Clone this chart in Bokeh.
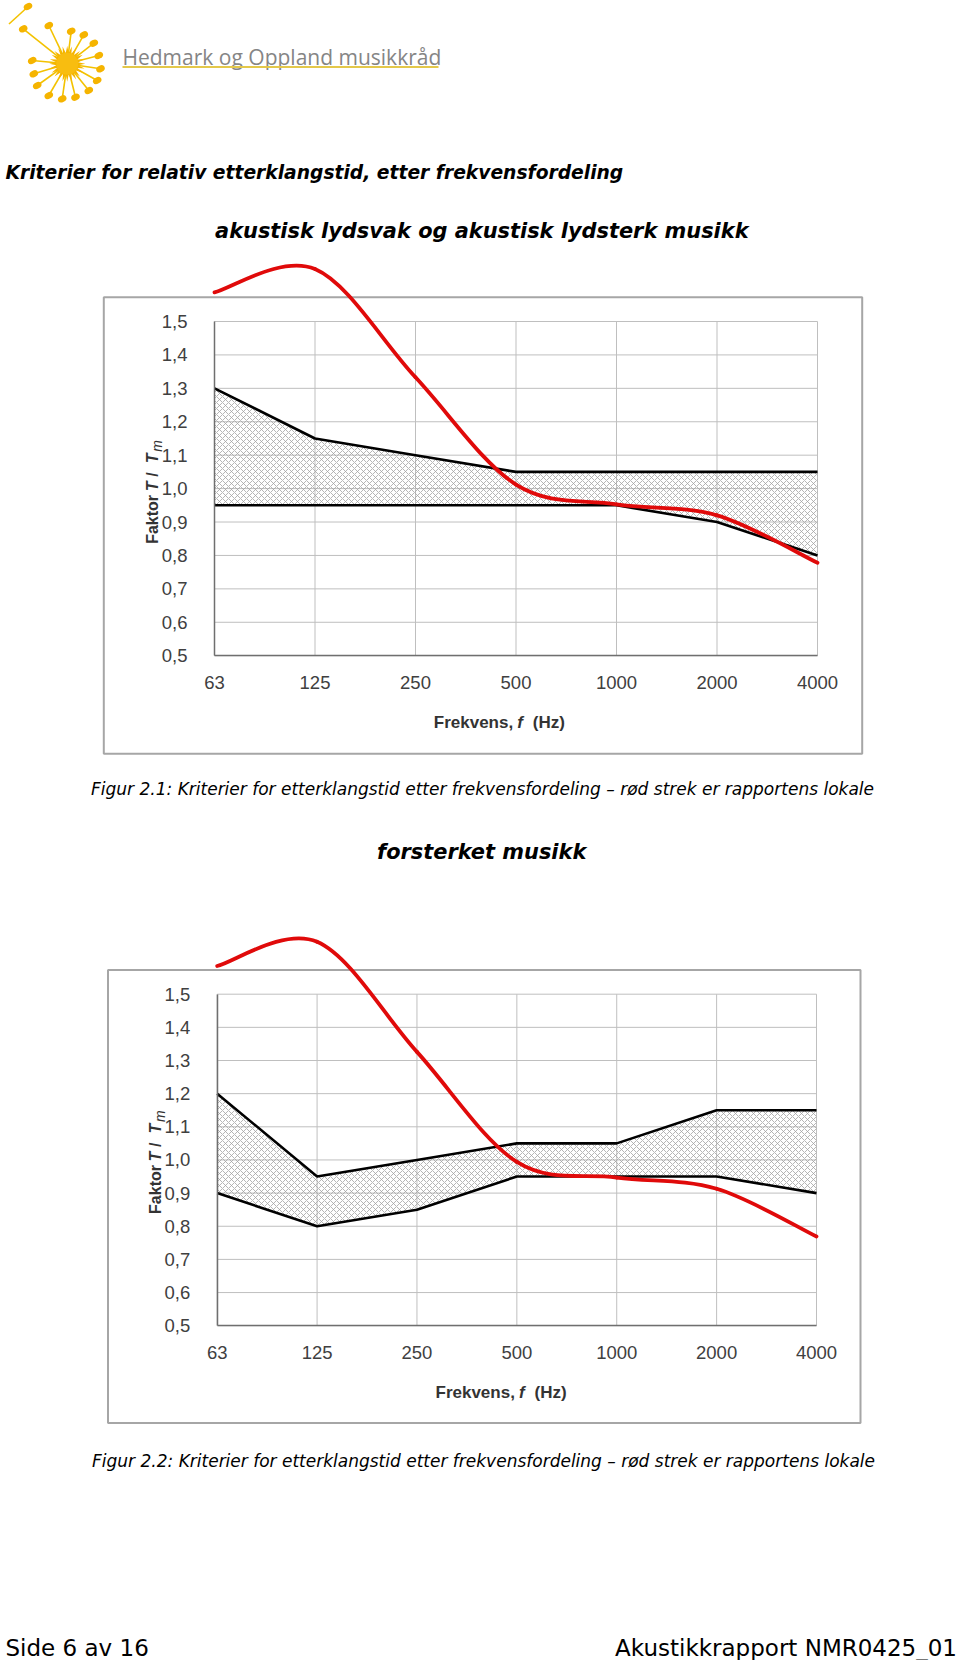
import math
from bokeh.plotting import figure
from bokeh.models import Range1d, LinearAxis, FixedTicker
from bokeh.core.properties import value
from bokeh.embed import file_html
from bokeh.resources import INLINE

# ---------------- data ----------------
FREQ_LABELS = ["63", "125", "250", "500", "1000", "2000", "4000"]
Y_TICKS = [0.5, 0.6, 0.7, 0.8, 0.9, 1.0, 1.1, 1.2, 1.3, 1.4, 1.5]
Y_TICK_LABELS = ["0,5", "0,6", "0,7", "0,8", "0,9", "1,0", "1,1", "1,2", "1,3", "1,4", "1,5"]

# Figur 2.1 - akustisk lydsvak og akustisk lydsterk musikk
UPPER_1 = [1.30, 1.15, 1.10, 1.05, 1.05, 1.05, 1.05]
LOWER_1 = [0.95, 0.95, 0.95, 0.95, 0.95, 0.90, 0.80]
ROOM_1 = [1.587, 1.657, 1.333, 1.012, 0.953, 0.920, 0.778]

# Figur 2.2 - forsterket musikk
UPPER_2 = [1.20, 0.95, 1.00, 1.05, 1.05, 1.15, 1.15]
LOWER_2 = [0.90, 0.80, 0.85, 0.95, 0.95, 0.95, 0.90]
ROOM_2 = [1.585, 1.658, 1.326, 0.994, 0.947, 0.913, 0.769]

TITLE = "Kriterier for relativ etterklangstid, etter frekvensfordeling"
SUB_1 = "akustisk lydsvak og akustisk lydsterk musikk"
SUB_2 = "forsterket musikk"
CAP_1 = "Figur 2.1: Kriterier for etterklangstid etter frekvensfordeling \u2013 r\u00f8d strek er rapportens lokale"
CAP_2 = "Figur 2.2: Kriterier for etterklangstid etter frekvensfordeling \u2013 r\u00f8d strek er rapportens lokale"
FOOT_L = "Side 6 av 16"
FOOT_R = "Akustikkrapport NMR0425_01"
LOGO_TEXT = "Hedmark og Oppland musikkr\u00e5d"

# ---------------- page canvas ----------------
W, H = 960, 1660
PX0, PY0 = 0, 0
PAGE_FONT = "DejaVu Sans"
CHART_FONT = "Liberation Sans"

p = figure(width=W, height=H, x_range=Range1d(PX0, PX0 + W), y_range=Range1d(PY0 + H, PY0),
           output_backend="svg", toolbar_location=None, min_border=0,
           x_axis_location=None, y_axis_location=None)
p.outline_line_color = None
p.background_fill_color = "white"
p.border_fill_color = "white"
p.grid.visible = False


def txt(x, y, s, size, style="normal", font=PAGE_FONT, align="left", baseline="middle",
        color="black", angle=0.0, **kw):
    p.text(x=[x], y=[y], text=[s], text_font=value(font), text_font_size=size,
           text_font_style=style, text_align=align, text_baseline=baseline,
           text_color=color, angle=angle, **kw)


# ---------------- logo ----------------
LOGO_YELLOW = "#f5b400"
LOGO_CENTER = (66.7, 63.3)
LOGO_HEADS = [(48.3, 25), (70.7, 30.7), (83.3, 34.3), (93.3, 42.7), (98.3, 55), (100, 68.3),
              (96.7, 80), (88.3, 90), (75, 96.7), (61.7, 98.3), (48.3, 95), (36.7, 85),
              (33.3, 73.3), (31.7, 60), (22.7, 28.3)]
cx, cy = LOGO_CENTER
p.segment(x0=[h[0] for h in LOGO_HEADS], y0=[h[1] for h in LOGO_HEADS],
          x1=[cx] * len(LOGO_HEADS), y1=[cy] * len(LOGO_HEADS),
          line_color="#f3c200", line_width=1.6)
p.segment(x0=[8.5], y0=[23.5], x1=[25.5], y1=[8.0], line_color="#f3c200", line_width=1.6)
p.ellipse(x=[h[0] for h in LOGO_HEADS] + [27.5], y=[h[1] for h in LOGO_HEADS] + [6.0],
          width=9, height=6.5, angle=0.5, fill_color=LOGO_YELLOW, line_color=None)
star_x, star_y = [], []
for k in range(48):
    r = 18 if k % 2 == 0 else 11
    a = k * math.pi / 24
    star_x.append(cx + r * math.cos(a))
    star_y.append(cy + r * math.sin(a))
p.patch(star_x, star_y, fill_color=LOGO_YELLOW, line_color=None)
p.circle(x=[cx], y=[cy], radius=11, fill_color="#f8bd10", line_color=None)
txt(122, 56.7, LOGO_TEXT, "21px", font="Open Sans", baseline="alphabetic", color="#858585")
p.segment(x0=[122], y0=[66.5], x1=[438], y1=[66.5], line_color="#e3c84a", line_width=2)

# ---------------- page texts ----------------
txt(5, 172.3, TITLE, "18.7px", style="bold italic")
txt(481.3, 230, SUB_1, "20.9px", style="bold italic", align="center")
txt(482, 788.3, CAP_1, "17px", style="italic", align="center")
txt(481.2, 851.7, SUB_2, "20.9px", style="bold italic", align="center")
txt(483, 1460.7, CAP_2, "17px", style="italic", align="center")
txt(5, 1647, FOOT_L, "23px", baseline="alphabetic")
txt(956.5, 1647, FOOT_R, "23px", baseline="alphabetic", align="right")

# ---------------- charts ----------------
CHARTS = [
    dict(name="c1", upper=UPPER_1, lower=LOWER_1, room=ROOM_1,
         plot=(214.0, 817.0, 321.0, 655.2), box=(103.3, 861.7, 296.7, 753.3),
         xtitle=(433.3, 721.7), ytitle=(152.0, 543.3)),
    dict(name="c2", upper=UPPER_2, lower=LOWER_2, room=ROOM_2,
         plot=(216.7, 816.0, 993.7, 1325.2), box=(107.5, 860.0, 969.6, 1422.5),
         xtitle=(435.0, 1391.7), ytitle=(155.0, 1213.4)),
]

N = len(FREQ_LABELS)
IDX = list(range(N))
GRID_COLOR = "#bfbfbf"
AXIS_COLOR = "#6f6f6f"
LABEL_COLOR = "#404040"
TITLE_COLOR = "#333333"


def excel_smooth(ys):
    xs = list(range(len(ys)))
    xe = [xs[0]] + xs + [xs[-1]]
    ye = [ys[0]] + list(ys) + [ys[-1]]
    seg = dict(x0=[], y0=[], x1=[], y1=[], cx0=[], cy0=[], cx1=[], cy1=[])
    for i in range(len(ys) - 1):
        seg["x0"].append(xe[i + 1]); seg["y0"].append(ye[i + 1])
        seg["x1"].append(xe[i + 2]); seg["y1"].append(ye[i + 2])
        seg["cx0"].append(xe[i + 1] + (xe[i + 2] - xe[i]) / 6.0)
        seg["cy0"].append(ye[i + 1] + (ye[i + 2] - ye[i]) / 6.0)
        seg["cx1"].append(xe[i + 2] - (xe[i + 3] - xe[i + 1]) / 6.0)
        seg["cy1"].append(ye[i + 2] - (ye[i + 3] - ye[i + 1]) / 6.0)
    return seg


for c in CHARTS:
    L, R, T, B = c["plot"]
    sx = (R - L) / (N - 1)
    sy = (B - T) / (Y_TICKS[-1] - Y_TICKS[0])
    xr_name, yr_name = c["name"] + "x", c["name"] + "y"
    p.extra_x_ranges[xr_name] = Range1d(0 - (L - PX0) / sx, (N - 1) + (PX0 + W - R) / sx)
    p.extra_y_ranges[yr_name] = Range1d(Y_TICKS[0] - (PY0 + H - B) / sy, Y_TICKS[-1] + (T - PY0) / sy)
    rn = dict(x_range_name=xr_name, y_range_name=yr_name)

    # outer frame of the picture
    bl, br, bt, bb = c["box"]
    p.quad(left=[bl], right=[br], top=[bt], bottom=[bb], fill_color=None,
           line_color="#a6a6a6", line_width=2)

    # grid
    p.segment(x0=IDX, y0=[Y_TICKS[0]] * N, x1=IDX, y1=[Y_TICKS[-1]] * N,
              line_color=GRID_COLOR, line_width=1, **rn)
    p.segment(x0=[IDX[0]] * len(Y_TICKS), y0=Y_TICKS, x1=[IDX[-1]] * len(Y_TICKS), y1=Y_TICKS,
              line_color=GRID_COLOR, line_width=1, **rn)

    # criteria band
    p.varea(x=IDX, y1=c["lower"], y2=c["upper"], fill_color=None,
            hatch_pattern="x", hatch_color="#a3a3a3", hatch_scale=6, hatch_weight=0.8, **rn)
    p.line(IDX, c["upper"], line_color="black", line_width=2.6, **rn)
    p.line(IDX, c["lower"], line_color="black", line_width=2.6, **rn)

    # axes
    yax = LinearAxis(fixed_location=0, bounds=(Y_TICKS[0], Y_TICKS[-1]),
                     ticker=FixedTicker(ticks=Y_TICKS),
                     major_label_overrides=dict(zip(Y_TICKS, Y_TICK_LABELS)), **rn)
    xax = LinearAxis(fixed_location=Y_TICKS[0], bounds=(IDX[0], IDX[-1]),
                     ticker=FixedTicker(ticks=IDX),
                     major_label_overrides=dict(zip(IDX, FREQ_LABELS)), **rn)
    for ax in (yax, xax):
        ax.axis_line_color = AXIS_COLOR
        ax.axis_line_width = 1.5
        ax.major_tick_line_color = None
        ax.minor_tick_line_color = None
        ax.major_tick_out = 0
        ax.major_tick_in = 0
        ax.minor_tick_out = 0
        ax.minor_tick_in = 0
        ax.major_label_text_font = CHART_FONT
        ax.major_label_text_font_size = "18.5px"
        ax.major_label_text_color = LABEL_COLOR
    yax.major_label_standoff = 27
    xax.major_label_standoff = 20
    p.add_layout(yax, "left")
    p.add_layout(xax, "below")

    # axis titles
    tx, ty = c["xtitle"]
    txt(tx, ty, "Frekvens,", "17px", style="bold", font=CHART_FONT, color=TITLE_COLOR)
    txt(tx + 83.5, ty, "f", "17px", style="bold italic", font=CHART_FONT, color=TITLE_COLOR)
    txt(tx + 99.0, ty, "(Hz)", "17px", style="bold", font=CHART_FONT, color=TITLE_COLOR)

    bx, by = c["ytitle"]
    a90 = math.pi / 2
    txt(bx, by, "Faktor", "16px", style="bold", font=CHART_FONT, baseline="alphabetic",
        color=TITLE_COLOR, angle=a90)
    txt(bx, by - 52.5, "T", "16px", style="bold italic", font=CHART_FONT, baseline="alphabetic",
        color=TITLE_COLOR, angle=a90)
    txt(bx, by - 67.0, "/", "16px", style="bold", font=CHART_FONT, baseline="alphabetic",
        color=TITLE_COLOR, angle=a90)
    txt(bx, by - 80.5, "T", "16px", style="bold italic", font=CHART_FONT, baseline="alphabetic",
        color=TITLE_COLOR, angle=a90)
    txt(bx + 4.5, by - 92.0, "m", "14px", style="italic", font=CHART_FONT, baseline="alphabetic",
        color=TITLE_COLOR, angle=a90)

    # measured room (smoothed like the original spreadsheet line)
    seg = excel_smooth(c["room"])
    p.bezier(line_color="#e00a0a", line_width=3.8, line_cap="round", **seg, **rn)

open("out.html", "w").write(file_html(p, INLINE))
